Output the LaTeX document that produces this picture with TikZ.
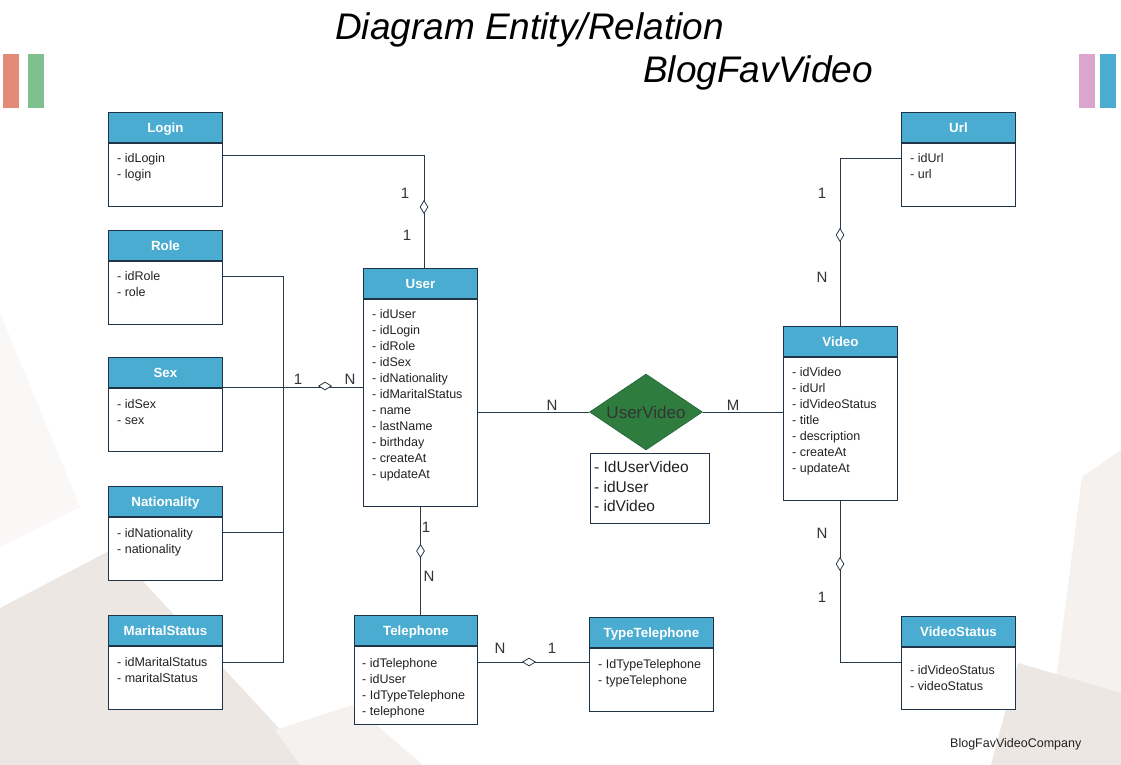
\documentclass[tikz,border=0pt]{standalone}
\usepackage{fontspec}
\setmainfont{Liberation Sans}
\usetikzlibrary{calc,shapes.geometric}
\definecolor{hdrblue}{HTML}{4BACD1}
\definecolor{bord}{HTML}{1F3447}
\definecolor{linec}{HTML}{2B3A48}
\definecolor{txt}{HTML}{222222}
\definecolor{card}{HTML}{333333}
\definecolor{relgreen}{HTML}{2E7D3F}
\definecolor{relborder}{HTML}{25663A}
\definecolor{bgdark}{HTML}{EDE7E4}
\definecolor{bglight}{HTML}{F5F1EF}
\definecolor{bgvlight}{HTML}{FAF8F7}
\definecolor{barsalmon}{HTML}{E38B77}
\definecolor{bargreen}{HTML}{7FC08F}
\definecolor{barpink}{HTML}{DCA5CE}
\definecolor{barblue}{HTML}{4BACD1}
\newcommand\attrlist[1]{\begin{tabular}[t]{@{}l@{}}#1\end{tabular}}
\tikzset{
  hdr/.style={draw=bord, line width=0.9pt, fill=hdrblue, text=white, inner sep=0pt,
    text height=11, text depth=1.4,
    minimum height=30, anchor=north west, font=\bfseries\fontsize{13.3}{15}\selectfont},
  bodyb/.style={draw=bord, line width=0.9pt, fill=white, inner sep=0pt, anchor=north west},
  attr/.style={anchor=base west, inner sep=0pt, text=txt, font=\fontsize{12.5}{16}\selectfont},
  conn/.style={draw=linec, line width=0.9pt},
  dmdV/.style={diamond, draw=linec, line width=0.8pt, fill=white, inner sep=0pt, minimum width=8, minimum height=13},
  dmdH/.style={diamond, draw=linec, line width=0.8pt, fill=white, inner sep=0pt, minimum width=13, minimum height=8},
  cardlbl/.style={text=card, inner sep=0pt, font=\fontsize{15}{18}\selectfont},
}
\begin{document}
\begin{tikzpicture}[x=1pt,y=-1pt]
\useasboundingbox (0,0) rectangle (1121,765);
\fill[white] (0,0) rectangle (1121,765);
% background shapes
\fill[bgvlight] (0,313) -- (80,507) -- (0,547) -- cycle;
\fill[bgdark] (0,608) -- (113,549) -- (313,765) -- (0,765) -- cycle;
\fill[bglight] (275,730) -- (353,705) -- (423,765) -- (300,765) -- cycle;
\fill[bglight] (1082,477) -- (1121,450) -- (1121,765) -- (1045,765) -- cycle;
\fill[bgdark] (1018,663) -- (1121,693) -- (1121,765) -- (991,765) -- cycle;
% bars
\fill[barsalmon] (3,54) rectangle (19,108);
\fill[bargreen] (28,54) rectangle (44,108);
\fill[barpink] (1079,54) rectangle (1095,108);
\fill[barblue] (1100,54) rectangle (1116,108);
% titles
\node[anchor=base west, inner sep=0pt, font=\itshape\fontsize{37}{40}\selectfont] (title1) at (335,40) {Diagram Entity/Relation};
\node[anchor=base west, inner sep=0pt, font=\itshape\fontsize{37}{40}\selectfont] (title2) at (643,83) {BlogFavVideo};
\node[anchor=base west, inner sep=0pt, text=txt, font=\fontsize{12.5}{15}\selectfont] (footer) at (950,747) {BlogFavVideoCompany};

% Login
\node[hdr, minimum width=114] (loginH) at (108,112) {Login};
\node[bodyb, minimum width=114, minimum height=63] (loginB) at (loginH.south west) {};
\node[attr] (loginT) at ($(loginB.north west)+(9,19.5)$) {\attrlist{- idLogin\\- login}};
% Role
\node[hdr, minimum width=114] (roleH) at (108,230) {Role};
\node[bodyb, minimum width=114, minimum height=63] (roleB) at (roleH.south west) {};
\node[attr] (roleT) at ($(roleB.north west)+(9,19.5)$) {\attrlist{- idRole\\- role}};
% Sex
\node[hdr, minimum width=114] (sexH) at (108,357) {Sex};
\node[bodyb, minimum width=114, minimum height=63] (sexB) at (sexH.south west) {};
\node[attr] (sexT) at ($(sexB.north west)+(9,20.5)$) {\attrlist{- idSex\\- sex}};
% Nationality
\node[hdr, minimum width=114] (natH) at (108,486) {Nationality};
\node[bodyb, minimum width=114, minimum height=63] (natB) at (natH.south west) {};
\node[attr] (natT) at ($(natB.north west)+(9,20.5)$) {\attrlist{- idNationality\\- nationality}};
% MaritalStatus
\node[hdr, minimum width=114] (marH) at (108,615) {MaritalStatus};
\node[bodyb, minimum width=114, minimum height=63] (marB) at (marH.south west) {};
\node[attr] (marT) at ($(marB.north west)+(9,20.5)$) {\attrlist{- idMaritalStatus\\- maritalStatus}};
% User
\node[hdr, minimum width=114] (userH) at (363,268) {User};
\node[bodyb, minimum width=114, minimum height=207] (userB) at (userH.south west) {};
\node[attr] (userT) at ($(userB.north west)+(9,19.5)$) {\attrlist{- idUser\\- idLogin\\- idRole\\- idSex\\- idNationality\\- idMaritalStatus\\- name\\- lastName\\- birthday\\- createAt\\- updateAt}};
% Telephone
\node[hdr, minimum width=123] (telH) at (354,615) {Telephone};
\node[bodyb, minimum width=123, minimum height=78] (telB) at (telH.south west) {};
\node[attr] (telT) at ($(telB.north west)+(8,21.5)$) {\attrlist{- idTelephone\\- idUser\\- IdTypeTelephone\\- telephone}};
% TypeTelephone
\node[hdr, minimum width=124] (ttH) at (589,617) {TypeTelephone};
\node[bodyb, minimum width=124, minimum height=63] (ttB) at (ttH.south west) {};
\node[attr] (ttT) at ($(ttB.north west)+(9,20.5)$) {\attrlist{- IdTypeTelephone\\- typeTelephone}};
% Url
\node[hdr, minimum width=114] (urlH) at (901,112) {Url};
\node[bodyb, minimum width=114, minimum height=63] (urlB) at (urlH.south west) {};
\node[attr] (urlT) at ($(urlB.north west)+(9,19.5)$) {\attrlist{- idUrl\\- url}};
% Video
\node[hdr, minimum width=114] (vidH) at (783,326) {Video};
\node[bodyb, minimum width=114, minimum height=143] (vidB) at (vidH.south west) {};
\node[attr] (vidT) at ($(vidB.north west)+(9,20)$) {\attrlist{- idVideo\\- idUrl\\- idVideoStatus\\- title\\- description\\- createAt\\- updateAt}};
% VideoStatus
\node[hdr, minimum width=114] (vsH) at (901,616) {VideoStatus};
\node[bodyb, minimum width=114, minimum height=62] (vsB) at (vsH.south west) {};
\node[attr] (vsT) at ($(vsB.north west)+(9,28)$) {\attrlist{- idVideoStatus\\- videoStatus}};
% relationship
\node[diamond, shape aspect=1.49, fill=relgreen, draw=relborder, line width=0.6pt, inner sep=0pt,
  minimum width=113, minimum height=76, text=card, font=\fontsize{17}{20}\selectfont] (rel) at (646,412) {UserVideo};
\node[bodyb, draw=bord, minimum width=119, minimum height=70] (relB) at (590,453) {};
\node[anchor=base west, inner sep=0pt, text=txt, font=\fontsize{15.5}{19.5}\selectfont] (relT) at ($(relB.north west)+(4,19.5)$) {\attrlist{- IdUserVideo\\- idUser\\- idVideo}};

% connectors
\coordinate (busB) at (283,662);
\draw[conn] ($(loginB.north east)+(0,13)$) -| ($(userH.north)+(4,0)$);
\draw[conn] ($(roleB.north east)+(0,16)$) -| (busB) -- (busB -| marB.east);
\draw[conn] ($(natB.north east)+(0,16)$) -- ($(natB.north east -| busB)+(0,16)$);
\draw[conn] (sexH.south east) -- (sexH.south east -| userB.west);
\draw[conn] (userB.south) -- (userB.south |- telH.north);
\draw[conn] ($(telB.north east)+(0,17)$) -- ($(telB.north east -| ttB.west)+(0,17)$);
\draw[conn] (userB.east |- rel.west) -- (rel.west);
\draw[conn] (rel.east) -- (rel.east -| vidB.west);
\draw[conn] ($(urlB.north west)+(0,16)$) -| (vidH.north);
\draw[conn] (vidB.south) |- ($(vsB.north west)+(0,16)$);

% diamonds
\node[dmdV] (d1) at (424,207) {};
\node[dmdH] (d2) at (325,386) {};
\node[dmdV] (d3) at (420.5,551) {};
\node[dmdH] (d4) at (529,662) {};
\node[dmdV] (d5) at (840,235) {};
\node[dmdV] (d6) at (840,564) {};

% cardinalities
\node[cardlbl] (c1) at (405,193) {1};
\node[cardlbl] (c2) at (407,235) {1};
\node[cardlbl] (c3) at (298,379) {1};
\node[cardlbl] (c4) at (350,379) {N};
\node[cardlbl] (c5) at (426,527) {1};
\node[cardlbl] (c6) at (429,576) {N};
\node[cardlbl] (c7) at (500,648) {N};
\node[cardlbl] (c8) at (552,648) {1};
\node[cardlbl] (c9) at (552,405) {N};
\node[cardlbl] (c10) at (733,405) {M};
\node[cardlbl] (c11) at (822,193) {1};
\node[cardlbl] (c12) at (822,277) {N};
\node[cardlbl] (c13) at (822,533) {N};
\node[cardlbl] (c14) at (822,597) {1};
\end{tikzpicture}
\end{document}
